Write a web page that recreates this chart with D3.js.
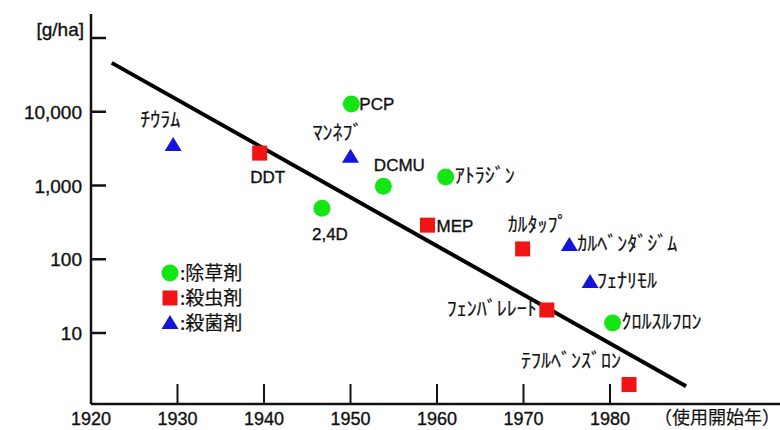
<!DOCTYPE html>
<html>
<head>
<meta charset="utf-8">
<script src="https://cdn.jsdelivr.net/npm/d3@7"></script>
<style>
  body { margin: 0; background: #fff; }
  text { font-family: "Liberation Sans", Arial, sans-serif; fill: #111; stroke: #111; stroke-width: 0.35px; }
  .jp { font-family: "Noto Sans CJK JP", sans-serif; stroke-width: 0.2px; }
</style>
</head>
<body>
<div id="chart"></div>
<script>
// data
const names  = ["ﾁｳﾗﾑ", "DDT", "PCP", "ﾏﾝﾈﾌﾞ", "DCMU", "2,4D", "ｱﾄﾗｼﾞﾝ", "MEP",
                "ｶﾙﾀｯﾌﾟ", "ｶﾙﾍﾞﾝﾀﾞｼﾞﾑ", "ﾌｪﾅﾘﾓﾙ", "ﾌｪﾝﾊﾞﾚﾚｰﾄ", "ｸﾛﾙｽﾙﾌﾛﾝ", "ﾃﾌﾙﾍﾞﾝｽﾞﾛﾝ"];
const years  = [1929.5, 1939.5, 1950.1, 1950.0, 1953.8, 1946.7, 1961.0, 1958.9,
                1969.9, 1975.3, 1977.7, 1972.7, 1980.3, 1982.2];
const values = [3550, 2750, 12700, 2460, 980, 490, 1300, 290,
                138, 156, 49, 20.5, 13.7, 2.0];
const kinds  = ["fungicide", "insecticide", "herbicide", "fungicide", "herbicide", "herbicide", "herbicide", "insecticide",
                "insecticide", "fungicide", "fungicide", "insecticide", "herbicide", "insecticide"];

// trend line end points
const trendYears  = [1922.4, 1988.8];
const trendValues = [46000, 1.9];

const xTicks = [1920, 1930, 1940, 1950, 1960, 1970, 1980];
const yTicks = [10, 100, 1000, 10000, 100000];
const yTickLabels = ["10", "100", "1,000", "10,000", ""];

const legendKinds  = ["herbicide", "insecticide", "fungicide"];
const legendLabels = [":除草剤", ":殺虫剤", ":殺菌剤"];

const width = 780, height = 430;
const colors = {herbicide: "#14e614", insecticide: "#f01414", fungicide: "#1414dc"};

// where each label sits relative to its marker
const labelPos = {
  "ﾁｳﾗﾑ": [-13, -18, "middle"], "DDT": [8, 30, "middle"], "PCP": [8, 6, "start"],
  "ﾏﾝﾈﾌﾞ": [-13, -17, "middle"], "DCMU": [16, -15, "middle"], "2,4D": [8, 32, "middle"],
  "ｱﾄﾗｼﾞﾝ": [9, 6, "start"], "MEP": [9, 7, "start"], "ｶﾙﾀｯﾌﾟ": [15, -17, "middle"],
  "ｶﾙﾍﾞﾝﾀﾞｼﾞﾑ": [8, 6, "start"], "ﾌｪﾅﾘﾓﾙ": [7, 6, "start"], "ﾌｪﾝﾊﾞﾚﾚｰﾄ": [-10, 6, "end"],
  "ｸﾛﾙｽﾙﾌﾛﾝ": [9, 6, "start"], "ﾃﾌﾙﾍﾞﾝｽﾞﾛﾝ": [-58, -17, "middle"]
};

const x = d3.scaleLinear().domain([1920, 1980]).range([91, 610]);
const y = d3.scaleLog().domain([10, 100000]).range([333, 38]);
const axisY = 404, axisTop = 14;

const svg = d3.select("#chart")
  .append("svg")
    .attr("width", width)
    .attr("height", height);

// axes
svg.append("line")
  .attr("x1", x(1920)).attr("x2", x(1920))
  .attr("y1", axisTop).attr("y2", axisY)
  .attr("stroke", "#111").attr("stroke-width", 2.5);
svg.append("line")
  .attr("x1", x(1920)).attr("x2", width)
  .attr("y1", axisY).attr("y2", axisY)
  .attr("stroke", "#111").attr("stroke-width", 2.5);

svg.selectAll(".ytick")
  .data(yTicks)
  .join("line")
    .attr("x1", x(1920)).attr("x2", x(1920) + 15)
    .attr("y1", d => y(d)).attr("y2", d => y(d))
    .attr("stroke", "#111").attr("stroke-width", 2.5);

svg.selectAll(".ylab")
  .data(yTicks)
  .join("text")
    .attr("x", 82)
    .attr("y", d => y(d) + 7)
    .attr("text-anchor", "end")
    .attr("font-size", 19)
    .text((d, i) => yTickLabels[i]);

svg.append("text")
  .attr("x", 84).attr("y", 36)
  .attr("text-anchor", "end")
  .attr("font-size", 19)
  .text("[g/ha]");

svg.selectAll(".xtick")
  .data(xTicks.slice(1))
  .join("line")
    .attr("x1", d => x(d)).attr("x2", d => x(d))
    .attr("y1", axisY - 20).attr("y2", axisY)
    .attr("stroke", "#111").attr("stroke-width", 2);

svg.selectAll(".xlab")
  .data(xTicks)
  .join("text")
    .attr("x", d => x(d))
    .attr("y", 425)
    .attr("text-anchor", "middle")
    .attr("font-size", 18)
    .text(d => d);

svg.append("text")
  .attr("class", "jp")
  .attr("x", 780).attr("y", 424)
  .attr("text-anchor", "end")
  .attr("font-size", 18)
  .text("（使用開始年）");

// trend line
svg.append("line")
  .attr("x1", x(trendYears[0])).attr("y1", y(trendValues[0]))
  .attr("x2", x(trendYears[1])).attr("y2", y(trendValues[1]))
  .attr("stroke", "#000").attr("stroke-width", 4);

// markers
function drawMarker(g, kind, cx, cy) {
  if (kind === "herbicide") {
    g.append("circle").attr("cx", cx).attr("cy", cy).attr("r", 8.5)
      .attr("fill", colors[kind]);
  } else if (kind === "insecticide") {
    g.append("rect").attr("x", cx - 7.5).attr("y", cy - 7.5)
      .attr("width", 15).attr("height", 15).attr("fill", colors[kind]);
  } else {
    g.append("path")
      .attr("d", `M${cx},${cy - 8}L${cx + 8.5},${cy + 6}L${cx - 8.5},${cy + 6}Z`)
      .attr("fill", colors[kind]);
  }
}

const pts = svg.append("g");
names.forEach((n, i) => {
  const cx = x(years[i]), cy = y(values[i]);
  drawMarker(pts, kinds[i], cx, cy);
  const p = labelPos[n];
  const latin = /^[A-Z0-9,]+$/.test(n);
  pts.append("text")
    .attr("class", latin ? null : "jp")
    .attr("x", cx + p[0]).attr("y", cy + p[1])
    .attr("text-anchor", p[2])
    .attr("font-size", latin ? 17 : 20)
    .text(n);
});

// legend
const legend = svg.append("g");
legendKinds.forEach((k, i) => {
  const ly = 273 + i * 25;
  drawMarker(legend, k, 170, ly);
  legend.append("text")
    .attr("class", "jp")
    .attr("x", 180).attr("y", ly + 7)
    .attr("font-size", 19)
    .text(legendLabels[i]);
});
</script>
</body>
</html>
